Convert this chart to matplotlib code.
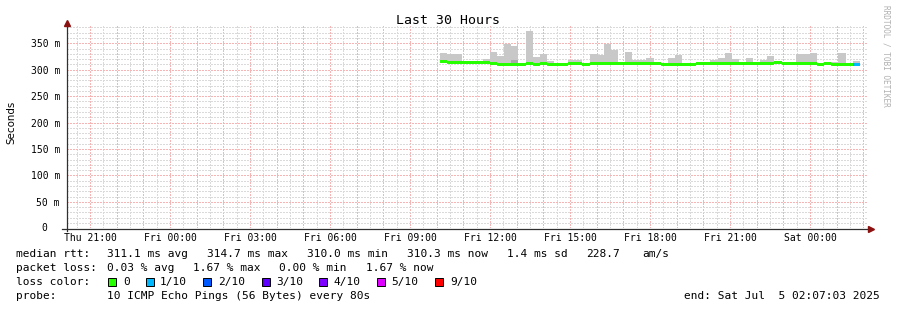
import datetime as dt
import matplotlib
matplotlib.use("Agg")
import matplotlib.pyplot as plt
import matplotlib.dates as mdates
from matplotlib.ticker import MultipleLocator, FuncFormatter
from matplotlib.patches import Rectangle

# ---------------- data ----------------
title = "Last 30 Hours"
y_label = "Seconds"
end_time = dt.datetime(2025, 7, 5, 2, 7, 3)
start_time = end_time - dt.timedelta(hours=30)
first_bin = dt.datetime(2025, 7, 4, 10, 8, 0)
bin_minutes = 16

# smoke top (max rtt) per bin, ms
smoke_hi = [332, 330, 330, 315.5, 317, 315.5, 320, 333, 326, 348,
            344, 312.5, 373, 325, 329, 316, 312, 312, 318.5, 318.5,
            311.5, 329, 327, 348, 337, 314, 334, 318, 318, 322,
            313, 312, 322, 327, 311.5, 312.5, 313.5, 314, 319, 323,
            332, 321, 314, 323, 312.5, 318.5, 325.5, 314.5, 312.5, 312.5,
            329, 330.5, 332, 311.5, 312.5, 314, 332, 311.5, 316]
# smoke bottom (min rtt) per bin, ms
smoke_lo = [313.0, 313.0, 313.0, 312.8, 312.9, 312.8, 312.7, 311.0, 308.6, 308.7,
            309.0, 308.5, 310.3, 308.7, 309.5, 308.5, 308.6, 308.5, 309.7, 309.5,
            308.5, 309.5, 309.5, 309.5, 309.5, 309.5, 309.5, 309.5, 309.5, 309.5,
            309.5, 308.7, 308.8, 308.6, 308.7, 309.5, 310.5, 310.8, 310.5, 310.5,
            310.7, 310.5, 310.0, 309.5, 309.5, 309.5, 309.5, 311.5, 309.5, 309.5,
            309.5, 309.5, 309.5, 308.5, 309.5, 308.5, 308.5, 308.5, 308.8]
# darker inner smoke band (only where visible), ms
smoke_inner_lo = [None] * 10 + [311.0] + [None] * 48
smoke_inner_hi = [None] * 10 + [318.0] + [None] * 48
# median rtt per bin, ms
median = [314.7, 314.5, 314.5, 314.3, 314.4, 314.3, 314.2, 312.5, 310.0, 310.2,
          310.5, 310.0, 311.8, 310.2, 311.0, 310.0, 310.1, 310.0, 311.2, 311.0,
          310.0, 311.0, 311.0, 311.0, 311.0, 311.0, 311.0, 311.0, 311.0, 311.0,
          311.0, 310.2, 310.3, 310.1, 310.2, 310.6, 312.0, 312.3, 312.0, 312.0,
          312.2, 312.0, 311.5, 311.0, 311.0, 311.0, 311.0, 313.0, 311.0, 311.0,
          311.0, 311.0, 311.0, 310.0, 311.0, 310.0, 310.0, 310.0, 310.3]
# loss per bin, in tenths
loss = [0] * 58 + [1]

loss_labels = ["0", "1/10", "2/10", "3/10", "4/10", "5/10", "9/10"]
loss_levels = [0, 1, 2, 3, 4, 5, 9]
loss_colors = ["#26ff00", "#00b8ff", "#0059ff", "#5e00ff", "#7e00ff", "#dd00ff", "#ff0000"]

legend_rtt = ["311.1 ms avg", "314.7 ms max", "310.0 ms min", "310.3 ms now",
              "1.4 ms sd", "228.7", "am/s"]
legend_loss = ["0.03 % avg", "1.67 % max", "0.00 % min", "1.67 % now"]
probe_text = "10 ICMP Echo Pings (56 Bytes) every 80s"
end_text = "end: Sat Jul  5 02:07:03 2025"
watermark = "RRDTOOL / TOBI OETIKER"

# ---------------- figure ----------------
W, H = 897, 310
fig = plt.figure(figsize=(W / 100, H / 100), dpi=100)
mono = "DejaVu Sans Mono"

ax_l, ax_r, ax_t, ax_b = 66.5, 866.5, 26.0, 228.3
ax = fig.add_axes([ax_l / W, 1 - ax_b / H, (ax_r - ax_l) / W, (ax_b - ax_t) / H])

bin_starts = [first_bin + dt.timedelta(minutes=bin_minutes * i) for i in range(len(median))]
xs = mdates.date2num(bin_starts)
bw = bin_minutes / (24 * 60)

ymax = 0.35 * (ax_b - ax_t) / 185.0
ax.set_xlim(mdates.date2num(start_time), mdates.date2num(end_time))
ax.set_ylim(0, ymax)

lo = [v / 1000 for v in smoke_lo]
hi = [v / 1000 for v in smoke_hi]
ax.bar(xs, [h - l for h, l in zip(hi, lo)], bottom=lo, width=bw, align="edge",
       color="#c8c8c8", linewidth=0, zorder=2)
ix = [x for x, v in zip(xs, smoke_inner_lo) if v is not None]
ilo = [v / 1000 for v in smoke_inner_lo if v is not None]
ihi = [v / 1000 for v in smoke_inner_hi if v is not None]
ax.bar(ix, [h - l for h, l in zip(ihi, ilo)], bottom=ilo, width=bw, align="edge",
       color="#a8a8a8", linewidth=0, zorder=2)

# median band (about 3 px thick)
band = 3.0 * ymax / (ax_b - ax_t)
cmap = dict(zip(loss_levels, loss_colors))
ax.bar(xs, band, bottom=[m / 1000 - band / 2 for m in median], width=bw, align="edge",
       color=[cmap[l] for l in loss], linewidth=0, zorder=3)

# grid
ax.xaxis.set_major_locator(mdates.HourLocator())
ax.xaxis.set_minor_locator(mdates.MinuteLocator(byminute=[30]))
ax.xaxis.set_major_formatter(FuncFormatter(
    lambda v, p: mdates.num2date(v).strftime("%a %H:%M") if mdates.num2date(v).hour % 3 == 0 else ""))
ax.yaxis.set_major_locator(MultipleLocator(0.05))
ax.yaxis.set_minor_locator(MultipleLocator(0.01))
ax.yaxis.set_major_formatter(FuncFormatter(
    lambda v, p: "" if abs(v) < 1e-9 else "%d m" % round(v * 1000)))

ax.grid(which="major", color="#f6b4b4", linestyle=(0, (1, 1)), linewidth=1.0,
        antialiased=False, zorder=1)
ax.grid(which="minor", color="#dadada", linestyle=(0, (1, 1)), linewidth=1.0,
        antialiased=False, zorder=0)
ax.set_axisbelow(True)

ax.tick_params(which="both", length=0)
ax.tick_params(axis="y", pad=4.7, labelsize=7, labelfontfamily=mono)
ax.tick_params(axis="x", pad=3.5, labelsize=7, labelfontfamily=mono)
for sp in ax.spines.values():
    sp.set_visible(False)

def fx(px):
    return px / W

def fy(py):
    return 1 - py / H

# zero label sits one unit-column left, as in rrdtool
fig.text(fx(47.7), fy(228.3), "0", ha="right", va="center", fontsize=7, family=mono)

axis_col = "#303030"
fig.add_artist(plt.Line2D([fx(66.5), fx(66.5)], [fy(231), fy(24)], color=axis_col, lw=0.9))
fig.add_artist(plt.Line2D([fx(62), fx(870)], [fy(228.5), fy(228.5)], color=axis_col, lw=0.9))
fig.add_artist(plt.Line2D([fx(66.5)], [fy(23)], marker="^", markersize=4, color="#8b1010", lw=0))
fig.add_artist(plt.Line2D([fx(871)], [fy(228.5)], marker=">", markersize=4, color="#8b1010", lw=0))

# titles and texts
fig.text(fx(448), fy(20), title, ha="center", va="center", fontsize=9.5, family=mono)
fig.text(fx(11), fy(122), y_label, ha="center", va="center", rotation=90, fontsize=7.4,
         family="DejaVu Sans")
fig.text(fx(886), fy(5), watermark, ha="center", va="top", rotation=270, fontsize=5.6,
         family=mono, color="#b0b0b0")

fs = 8
row_y = [254.3, 268.3, 282.3, 296.0]
fig.text(fx(16), fy(row_y[0]), "median rtt:", ha="left", va="center", fontsize=fs, family=mono)
for x, t in zip([107.3, 207.3, 306.7, 406.7, 506.7, 586.0, 642.3], legend_rtt):
    fig.text(fx(x), fy(row_y[0]), t, ha="left", va="center", fontsize=fs, family=mono)
fig.text(fx(16), fy(row_y[1]), "packet loss:", ha="left", va="center", fontsize=fs, family=mono)
for x, t in zip([107.3, 192.7, 279.3, 366.0], legend_loss):
    fig.text(fx(x), fy(row_y[1]), t, ha="left", va="center", fontsize=fs, family=mono)
fig.text(fx(16), fy(row_y[2]), "loss color:", ha="left", va="center", fontsize=fs, family=mono)
box_x = [108.3, 145.7, 203.3, 261.7, 319.3, 377.3, 435.0]
lab_x = [123.3, 160.0, 218.3, 276.0, 333.3, 391.7, 450.0]
for bx, lx, c, t in zip(box_x, lab_x, loss_colors, loss_labels):
    fig.add_artist(Rectangle((fx(bx), fy(row_y[2] + 4)), 8 / W, 8 / H, facecolor=c,
                             edgecolor="black", linewidth=0.7))
    fig.text(fx(lx), fy(row_y[2]), t, ha="left", va="center", fontsize=fs, family=mono)
fig.text(fx(16), fy(row_y[3]), "probe:", ha="left", va="center", fontsize=fs, family=mono)
fig.text(fx(107.3), fy(row_y[3]), probe_text, ha="left", va="center", fontsize=fs, family=mono)
fig.text(fx(880), fy(row_y[3]), end_text, ha="right", va="center", fontsize=fs, family=mono)

fig.savefig("out.png", dpi=100)
